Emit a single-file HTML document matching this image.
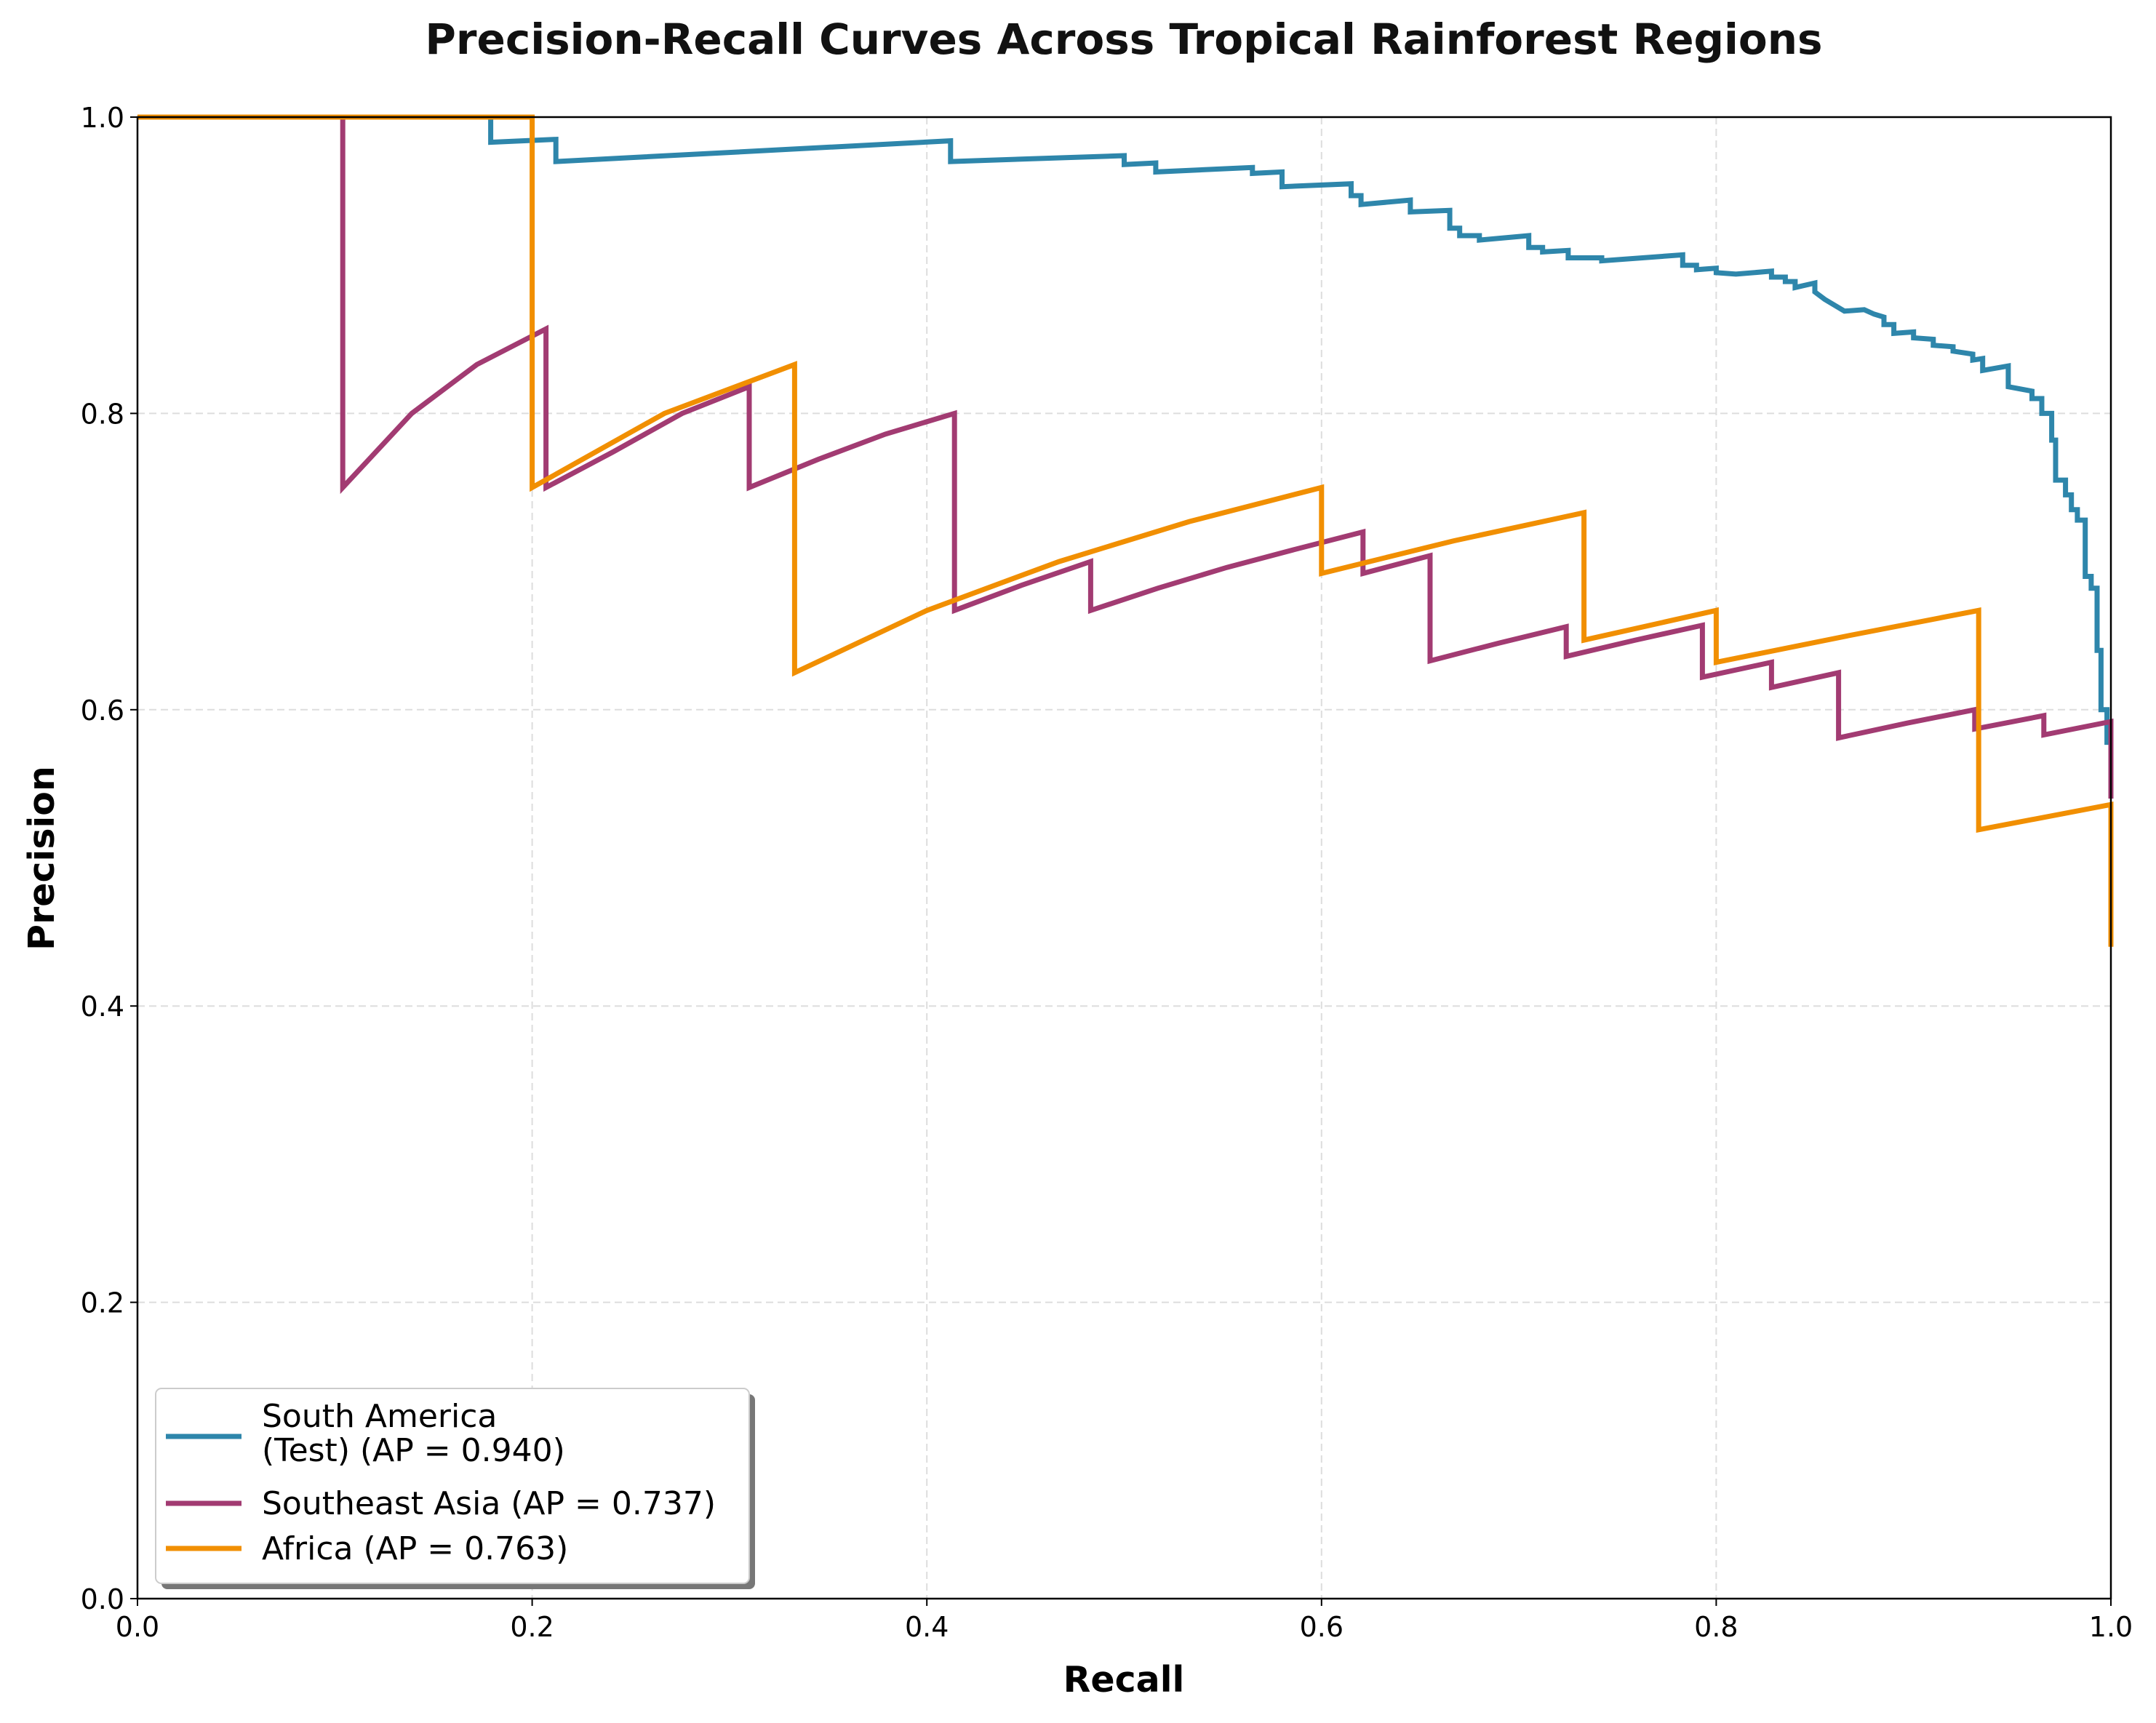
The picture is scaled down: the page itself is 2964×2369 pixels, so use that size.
<!DOCTYPE html>
<html><head><meta charset="utf-8"><style>
html,body{margin:0;padding:0;background:#fff;}
svg text{font-family:"DejaVu Sans","Liberation Sans",sans-serif;}
</style></head><body>
<svg id="chart" width="2964" height="2364" viewBox="0 0 2964 2364" xmlns="http://www.w3.org/2000/svg">
<rect width="2964" height="2364" fill="#fff"/>
<text x="1545" y="74" text-anchor="middle" font-size="58" font-weight="bold" fill="#111">Precision-Recall Curves Across Tropical Rainforest Regions</text>
<g id="grid"></g>
<g id="series"></g>
<rect x="189" y="161" width="2713" height="2037" fill="none" stroke="#000" stroke-width="2.5"/>
<g id="ticks"></g>
<text x="1545" y="2326" text-anchor="middle" font-size="49" font-weight="bold">Recall</text>
<text x="74" y="1180" text-anchor="middle" font-size="49" font-weight="bold" transform="rotate(-90 74 1180)">Precision</text>
<g id="legend">
<rect x="222" y="1917" width="816" height="268" rx="8" fill="#777"/>
<rect x="214" y="1909" width="816" height="268" rx="8" fill="#fff" stroke="#ccc" stroke-width="2"/>
<line x1="228" y1="1975" x2="332" y2="1975" stroke="#2e86ab" stroke-width="7"/>
<text x="360" y="1962" font-size="44">South America</text>
<text x="360" y="2009" font-size="44">(Test) (AP = 0.940)</text>
<line x1="228" y1="2067" x2="332" y2="2067" stroke="#a23b72" stroke-width="7"/>
<text x="360" y="2082" font-size="44">Southeast Asia (AP = 0.737)</text>
<line x1="228" y1="2129" x2="332" y2="2129" stroke="#f18f01" stroke-width="7"/>
<text x="360" y="2144" font-size="44">Africa (AP = 0.763)</text>
</g>
</svg>
<script>
const xTicks=[0,0.2,0.4,0.6,0.8,1.0];
const yTicks=[0,0.2,0.4,0.6,0.8,1.0];
const tickLabels=["0.0","0.2","0.4","0.6","0.8","1.0"];
const seriesNames=["south-america","southeast-asia","africa"];
const seriesColors=["#2e86ab","#a23b72","#f18f01"];
const saRecall=[0,0.179,0.179,0.212,0.212,0.412,0.412,0.5,0.5,0.516,0.516,0.565,0.565,0.58,0.58,0.615,0.615,0.62,0.62,0.645,0.645,0.665,0.665,0.67,0.67,0.68,0.68,0.705,0.705,0.712,0.712,0.725,0.725,0.742,0.742,0.783,0.783,0.79,0.79,0.8,0.8,0.81,0.828,0.828,0.835,0.835,0.84,0.84,0.85,0.85,0.855,0.865,0.875,0.88,0.885,0.885,0.89,0.89,0.9,0.9,0.91,0.91,0.92,0.92,0.93,0.93,0.935,0.935,0.948,0.948,0.96,0.96,0.965,0.965,0.97,0.97,0.972,0.972,0.977,0.977,0.98,0.98,0.983,0.983,0.987,0.987,0.99,0.99,0.993,0.993,0.995,0.995,0.998,0.998,1.0];
const saPrecision=[1,1,0.983,0.985,0.97,0.984,0.97,0.974,0.968,0.969,0.963,0.966,0.962,0.963,0.953,0.955,0.947,0.947,0.941,0.944,0.936,0.937,0.925,0.925,0.92,0.92,0.917,0.92,0.912,0.912,0.909,0.91,0.905,0.905,0.903,0.907,0.9,0.9,0.897,0.898,0.895,0.894,0.896,0.892,0.892,0.889,0.889,0.885,0.888,0.882,0.877,0.869,0.87,0.867,0.865,0.86,0.86,0.854,0.855,0.851,0.85,0.846,0.845,0.842,0.84,0.836,0.837,0.829,0.832,0.818,0.815,0.81,0.81,0.8,0.8,0.782,0.782,0.755,0.755,0.745,0.745,0.735,0.735,0.728,0.728,0.69,0.69,0.682,0.682,0.64,0.64,0.6,0.6,0.578,0.578];
const seaRecall=[0,0.104,0.104,0.139,0.172,0.207,0.207,0.241,0.276,0.31,0.31,0.345,0.379,0.414,0.414,0.448,0.483,0.483,0.517,0.552,0.586,0.621,0.621,0.655,0.655,0.69,0.724,0.724,0.759,0.793,0.793,0.828,0.828,0.862,0.862,0.897,0.931,0.931,0.966,0.966,1.0,1.0];
const seaPrecision=[1,1,0.75,0.8,0.833,0.857,0.75,0.774,0.8,0.818,0.75,0.769,0.786,0.8,0.667,0.684,0.7,0.667,0.682,0.696,0.708,0.72,0.692,0.704,0.633,0.645,0.656,0.636,0.647,0.657,0.622,0.632,0.615,0.625,0.581,0.591,0.6,0.587,0.596,0.583,0.592,0.54];
const afRecall=[0,0.2,0.2,0.267,0.333,0.333,0.4,0.467,0.533,0.6,0.6,0.667,0.733,0.733,0.8,0.8,0.867,0.933,0.933,1.0,1.0];
const afPrecision=[1,1,0.75,0.8,0.833,0.625,0.667,0.7,0.727,0.75,0.692,0.714,0.733,0.647,0.667,0.632,0.65,0.667,0.519,0.536,0.44];

const X0=189,X1=2902,Y0=2198,Y1=161;
function xs(v){return X0+v*(X1-X0);}
function ys(v){return Y0-v*(Y0-Y1);}
const NS="http://www.w3.org/2000/svg";
const grid=document.getElementById('grid'),ticks=document.getElementById('ticks'),series=document.getElementById('series');
function mk(tag,attrs){const e=document.createElementNS(NS,tag);for(const k in attrs)e.setAttribute(k,attrs[k]);return e;}
xTicks.forEach((t,i)=>{
  const g=mk('line',{x1:xs(t),x2:xs(t),y1:Y1,y2:Y0,stroke:'#ddd','stroke-width':2,'stroke-dasharray':'10,6'});
  
  
  grid.appendChild(g);
  const tk=mk('line',{x1:xs(t),x2:xs(t),y1:Y0,y2:Y0+10,stroke:'#000','stroke-width':2});
  
  
  ticks.appendChild(tk);
  const tx=mk('text',{x:xs(t),y:Y0+52,'text-anchor':'middle','font-size':38});
  
  
  tx.textContent=tickLabels[i];ticks.appendChild(tx);
});
yTicks.forEach((t,i)=>{
  const g=mk('line',{x1:X0,x2:X1,y1:ys(t),y2:ys(t),stroke:'#ddd','stroke-width':2,'stroke-dasharray':'10,6'});
  
  
  grid.appendChild(g);
  const tk=mk('line',{x1:X0-10,x2:X0,y1:ys(t),y2:ys(t),stroke:'#000','stroke-width':2});
  
  
  ticks.appendChild(tk);
  const tx=mk('text',{x:X0-18,y:ys(t)+14,'text-anchor':'end','font-size':38});
  
  
  tx.textContent=tickLabels[i];ticks.appendChild(tx);
});
const data=[[saRecall,saPrecision],[seaRecall,seaPrecision],[afRecall,afPrecision]];
data.forEach((d,i)=>{
  const pts=d[0].map((r,j)=>xs(r).toFixed(1)+','+ys(d[1][j]).toFixed(1)).join(' ');
  const p=mk('polyline',{points:pts,fill:'none',stroke:seriesColors[i],'stroke-width':7,'stroke-linejoin':'miter'});
  
  
  series.appendChild(p);
});
</script>
</body></html>
